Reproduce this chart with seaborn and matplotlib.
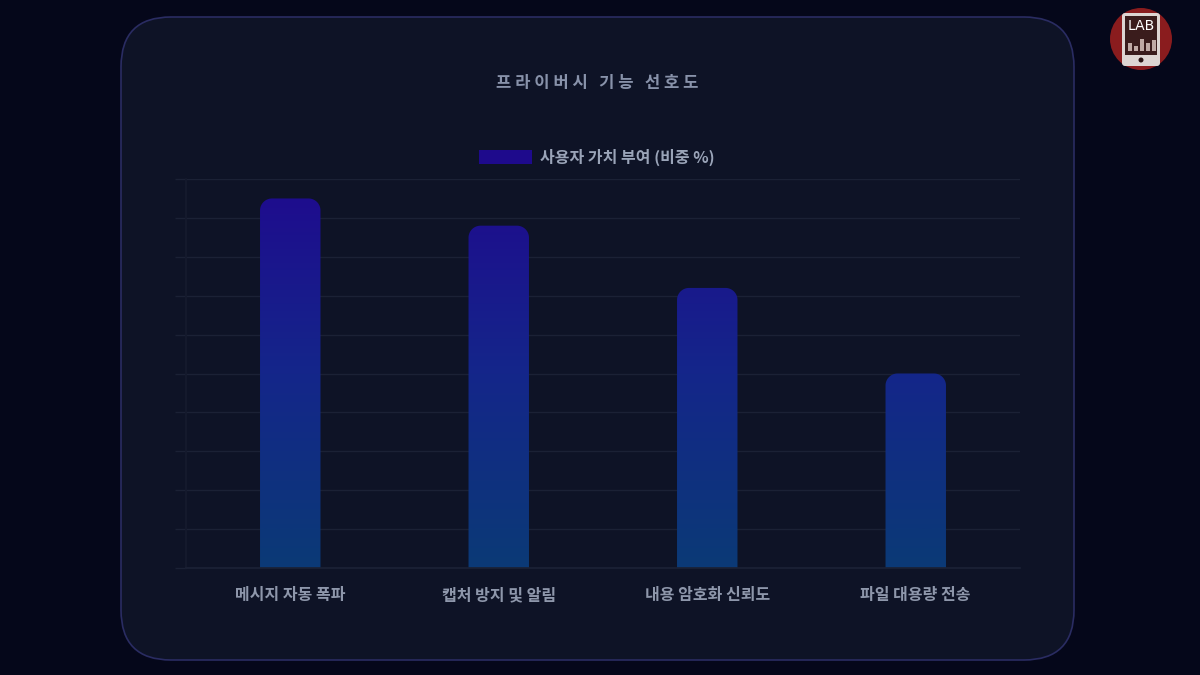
import numpy as np
import pandas as pd
import matplotlib
matplotlib.use("Agg")
import matplotlib.pyplot as plt
import seaborn as sns
from matplotlib.patches import FancyBboxPatch, Rectangle, Circle, Patch, PathPatch
from matplotlib.path import Path
from matplotlib.colors import LinearSegmentedColormap

# data
categories = ["메시지 자동 폭파", "캡처 방지 및 알림", "내용 암호화 신뢰도", "파일 대용량 전송"]
values = [95, 88, 72, 50]
series_name = "사용자 가치 부여 (비중 %)"
title = "프라이버시 기능 선호도"

sns.set_theme(style="dark")
plt.rcParams['font.family'] = ['Noto Sans CJK KR', 'DejaVu Sans']

W, H = 1200, 675
fig = plt.figure(figsize=(12, 6.75), dpi=100)
fig.patch.set_facecolor("#05071a")

# background layer in pixel coordinates
bg = fig.add_axes([0, 0, 1, 1], zorder=0)
bg.set_xlim(0, W)
bg.set_ylim(H, 0)
bg.axis("off")
bg.patch.set_alpha(0)

card = FancyBboxPatch((121, 17), 953, 643, boxstyle="round,pad=0,rounding_size=50",
                      facecolor="#0e1326", edgecolor="#2a2c62", linewidth=1.2)
bg.add_patch(card)

# title with letter spacing (one space between letters, three between words)
title_txt = "   ".join(" ".join(word) for word in title.split(" "))
bg.text(597, 83, title_txt, ha="center", va="center",
        fontsize=12, fontweight="bold", color="#8892aa")

# logo
bg.add_patch(Circle((1141, 39), 31, facecolor="#8a1c1e", edgecolor="none"))
bg.add_patch(FancyBboxPatch((1122, 13), 38, 53, boxstyle="round,pad=0,rounding_size=3",
                            facecolor="#ddd5d2", edgecolor="none"))
bg.add_patch(Rectangle((1125, 16), 32, 39, facecolor="#3a1c1c", edgecolor="none"))
bg.text(1141, 26, "LAB", ha="center", va="center", fontsize=10, color="white",
        family="DejaVu Sans")
for bx, bh in zip([1128, 1134, 1140, 1146, 1152], [8, 5, 12, 8, 11]):
    bg.add_patch(Rectangle((bx, 51 - bh), 4, bh, facecolor="#bfa9a4", edgecolor="none"))
bg.add_patch(Circle((1141, 60), 2.5, facecolor="#2a1414", edgecolor="none"))

# chart axes
left, right, top, bottom = 186, 1020, 179, 568
gridc = "#1b2135"
ax = fig.add_axes([left / W, (H - bottom) / H, (right - left) / W, (bottom - top) / H], zorder=1)
ax.patch.set_alpha(0)

df = pd.DataFrame({"feature": categories, "value": values})
sns.barplot(data=df, x="feature", y="value", width=0.29, color="#1e0a8c", ax=ax)

ax.set_xlim(-0.5, 3.5)
ax.set_ylim(0, 100)
ax.set_yticks(np.arange(0, 101, 10))
ax.set_yticklabels([])
ax.tick_params(axis="y", length=8, width=1, color=gridc, left=True)
ax.tick_params(axis="x", length=0, pad=14)
for lbl in ax.get_xticklabels():
    lbl.set_fontsize(11.5)
    lbl.set_fontweight("bold")
    lbl.set_color("#8e97ab")
ax.set_xlabel("")
ax.set_ylabel("")
ax.grid(axis="y", color=gridc, linewidth=1)
ax.grid(axis="x", visible=False)
for side in ["top", "right"]:
    ax.spines[side].set_visible(False)
ax.spines["bottom"].set_color(gridc)
ax.spines["left"].set_color("#151a2d")

# gradient fill with rounded top corners
cmap = LinearSegmentedColormap.from_list("bargrad", ["#0b3a76", "#14268a", "#1f0a8e"])
grad = np.linspace(0, 1, 256).reshape(-1, 1)
xpp = 4 / (right - left)
ypp = 100 / (bottom - top)
r = 12
rx, ry = r * xpp, r * ypp
for p in list(ax.patches):
    x0 = p.get_x()
    w = p.get_width()
    h = p.get_height()
    p.set_visible(False)
    pts = [(x0, 0)]
    for a in np.linspace(np.pi, np.pi / 2, 20):
        pts.append((x0 + rx + rx * np.cos(a), h - ry + ry * np.sin(a)))
    for a in np.linspace(np.pi / 2, 0, 20):
        pts.append((x0 + w - rx + rx * np.cos(a), h - ry + ry * np.sin(a)))
    pts.append((x0 + w, 0))
    pts.append((x0, 0))
    path = Path(pts, closed=True)
    clip = PathPatch(path, facecolor="none", edgecolor="none", transform=ax.transData)
    ax.add_patch(clip)
    im = ax.imshow(grad, extent=[-0.5, 3.5, 0, 100], origin="lower", aspect="auto",
                   cmap=cmap, zorder=2)
    im.set_clip_path(clip)

ax.set_xlim(-0.5, 3.5)
ax.set_ylim(0, 100)

leg = ax.legend(handles=[Patch(facecolor="#1e0a8c", edgecolor="none", label=series_name)],
                loc="center", bbox_to_anchor=(597 / W, (H - 157) / H),
                bbox_transform=fig.transFigure, frameon=False, fontsize=11.5,
                handlelength=3.3, handleheight=0.9, handletextpad=0.55)
for txt in leg.get_texts():
    txt.set_color("#9aa4b8")
    txt.set_fontweight("bold")

fig.savefig("out.png", dpi=100, facecolor=fig.get_facecolor())
